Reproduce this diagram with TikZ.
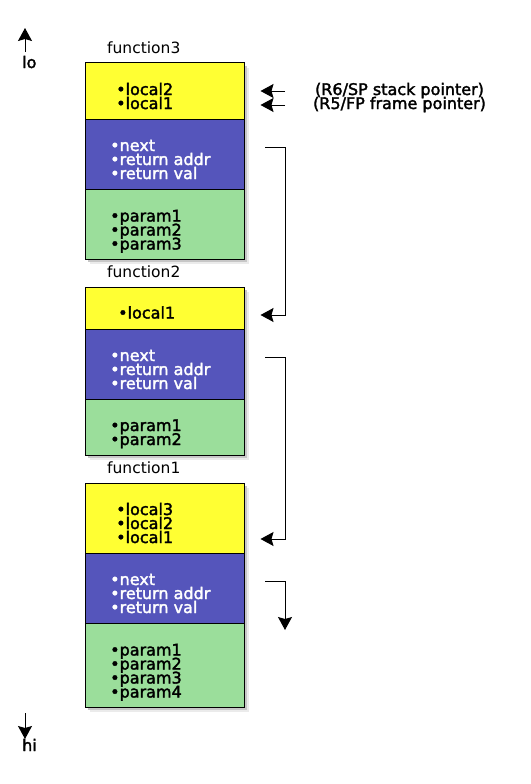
\documentclass[tikz,border=0pt]{standalone}
\usepackage{fontspec}
\setmainfont{DejaVu Sans}[BoldFont=DejaVu Sans, BoldFeatures={FakeBold=2}]
\usetikzlibrary{arrows.meta}

\definecolor{localyellow}{RGB}{255,255,51}
\definecolor{linkblue}{RGB}{85,85,187}
\definecolor{paramgreen}{RGB}{155,222,155}

\tikzset{
  item/.style={anchor=base west, inner sep=0pt, text height=10.5pt, text depth=3pt,
    font=\fontsize{16}{14}\selectfont\bfseries},
  linkitem/.style={item, text=white},
  title/.style={anchor=base west, inner sep=0pt, font=\fontsize{15.5}{14}\selectfont},
  frame/.style={draw=black, line width=1pt},
  ptr/.style={-{Stealth[length=13pt,width=14pt,inset=2pt]}, line width=1pt},
}

\begin{document}
\begin{tikzpicture}[x=1pt,y=-1pt]

\useasboundingbox (0,0) rectangle (530,784);

\foreach \top/\bot in {63/259,287/455,483/707} {
  \fill [black!8] (90,\top+5) rectangle (249,\bot+5);
  \fill [black!22] (88,\top+3) rectangle (247,\bot+3);
}

\draw [frame, fill=localyellow] (85,63) rectangle (244,119);
\draw [frame, fill=linkblue] (85,119) rectangle (244,189);
\draw [frame, fill=paramgreen] (85,189) rectangle (244,259);

\draw [frame, fill=localyellow] (85,287) rectangle (244,329);
\draw [frame, fill=linkblue] (85,329) rectangle (244,399);
\draw [frame, fill=paramgreen] (85,399) rectangle (244,455);

\draw [frame, fill=localyellow] (85,483) rectangle (244,553);
\draw [frame, fill=linkblue] (85,553) rectangle (244,623);
\draw [frame, fill=paramgreen] (85,623) rectangle (244,707);

\node [title] (fn3) at (107,53.5) {function3};
\node [title] (fn2) at (107,277.5) {function2};
\node [title] (fn1) at (107,473) {function1};

\foreach \t [count=\i from 0] in {local2,local1}
  \node [item] (f3loc\i) at (116,95+14*\i) {•\t};
\foreach \t [count=\i from 0] in {next,return addr,return val}
  \node [linkitem] (f3lnk\i) at (110,151+14*\i) {•\t};
\foreach \t [count=\i from 0] in {param1,param2,param3}
  \node [item] (f3par\i) at (110,221.5+14*\i) {•\t};

\node [item] (f2loc0) at (118,318.5) {•local1};
\foreach \t [count=\i from 0] in {next,return addr,return val}
  \node [linkitem] (f2lnk\i) at (110,361+14*\i) {•\t};
\foreach \t [count=\i from 0] in {param1,param2}
  \node [item] (f2par\i) at (110,431+14*\i) {•\t};

\foreach \t [count=\i from 0] in {local3,local2,local1}
  \node [item] (f1loc\i) at (116,515+14*\i) {•\t};
\foreach \t [count=\i from 0] in {next,return addr,return val}
  \node [linkitem] (f1lnk\i) at (110,585+14*\i) {•\t};
\foreach \t [count=\i from 0] in {param1,param2,param3,param4}
  \node [item] (f1par\i) at (110,655.5+14*\i) {•\t};

\node [item, anchor=base] (sp) at (399.5,95) {(R6/SP stack pointer)};
\node [item, anchor=base] (fp) at (399.5,109) {(R5/FP frame pointer)};

\node [item] (lo) at (22,68) {lo};
\node [item] (hi) at (22,751) {hi};

\path (25,52) coordinate(loA) (25,28) coordinate(loB);
\path (25,713) coordinate(hiA) (25,739) coordinate(hiB);
\path (285,91) coordinate(spA) (260.5,91) coordinate(spB);
\path (285,105) coordinate(fpA) (260.5,105) coordinate(fpB);

\path (265,147.5) coordinate(n3) (285,147.5) coordinate(n3r) (260.5,315) coordinate(f2fp);
\path (265,357.5) coordinate(n2) (285,357.5) coordinate(n2r) (260.5,539) coordinate(f1fp);
\path (265,581.5) coordinate(n1) (285,581.5) coordinate(n1r) (285,630) coordinate(n1end);

\draw [ptr] (loA) -- (loB);
\draw [ptr] (hiA) -- (hiB);
\draw [ptr] (spA) -- (spB);
\draw [ptr] (fpA) -- (fpB);

\draw [ptr] (n3) -- (n3r) |- (f2fp);
\draw [ptr] (n2) -- (n2r) |- (f1fp);
\draw [ptr] (n1) -- (n1r) -- (n1end);

\end{tikzpicture}
\end{document}
